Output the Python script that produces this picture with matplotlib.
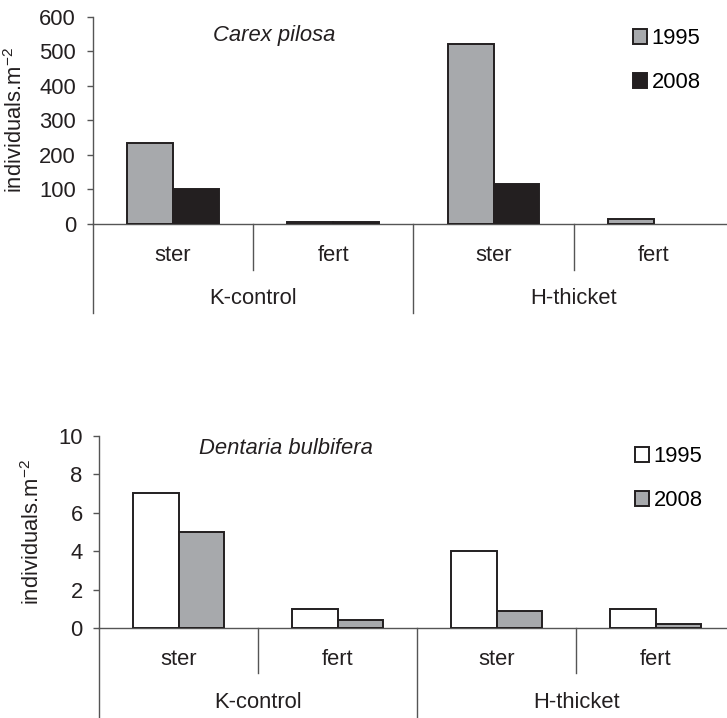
import matplotlib
matplotlib.use("Agg")
import matplotlib.pyplot as plt
from matplotlib.patches import Patch
import numpy as np

plt.rcParams['font.family'] = ['Liberation Sans', 'DejaVu Sans']
plt.rcParams['mathtext.fontset'] = 'custom'
plt.rcParams['mathtext.rm'] = 'Liberation Sans'
plt.rcParams['mathtext.it'] = 'Liberation Sans:italic'

sub_labels = ["ster", "fert", "ster", "fert"]
group_labels = ["K-control", "H-thicket"]
years = ["1995", "2008"]

carex_1995 = [234, 7, 521, 15]
carex_2008 = [101, 5, 117, 0]
dentaria_1995 = [7.0, 1.0, 4.0, 1.0]
dentaria_2008 = [5.0, 0.4, 0.9, 0.2]

W, H = 727, 718
fig = plt.figure(figsize=(W / 100, H / 100), dpi=100)

DARK = "#231f20"
GRAY = "#a7a9ac"
AXC = "#555555"
FS = 15.8


def make_panel(x0, x1, y_top, y_zero, vals1, vals2, colors, ymax, yticks, title,
               title_xy, leg_xy, sub_y, grp_y, short_y, long_y, ylab_x):
    ax = fig.add_axes([x0 / W, 1 - y_zero / H, (x1 - x0) / W, (y_zero - y_top) / H])
    x = np.arange(len(sub_labels))
    w = 0.285
    lw1 = [0 if v == 0 else 1.4 for v in vals1]
    lw2 = [0 if v == 0 else 1.4 for v in vals2]
    ax.bar(x - w / 2, vals1, w, color=colors[0], edgecolor=DARK, linewidth=lw1, zorder=3)
    ax.bar(x + w / 2, vals2, w, color=colors[1], edgecolor=DARK, linewidth=lw2, zorder=3)
    ax.set_xlim(-0.5, 3.5)
    ax.set_ylim(0, ymax)
    ax.set_yticks(yticks)
    ax.set_xticks([])
    for s in ["top", "right"]:
        ax.spines[s].set_visible(False)
    ax.spines["left"].set_color(AXC)
    ax.spines["bottom"].set_color(AXC)
    ax.spines["left"].set_linewidth(1.0)
    ax.spines["bottom"].set_linewidth(1.0)
    ax.tick_params(axis="y", direction="out", length=4.5, width=1.0, color=AXC,
                   labelsize=FS, labelcolor=DARK, pad=7.5)
    trans = ax.get_xaxis_transform()
    for xs in [0.5, 2.5]:
        ax.plot([xs, xs], [0, short_y], transform=trans, color=AXC, lw=1.0, clip_on=False)
    for xs in [-0.5, 1.5]:
        ax.plot([xs, xs], [0, long_y], transform=trans, color=AXC, lw=1.0, clip_on=False)
    for i, lab in enumerate(sub_labels):
        ax.text(i, sub_y, lab, transform=trans, ha="center", va="center",
                fontsize=FS, color=DARK)
    for j, lab in enumerate(group_labels):
        ax.text(2 * j + 0.5, grp_y, lab, transform=trans, ha="center", va="center",
                fontsize=FS, color=DARK)
    fig.text(title_xy[0] / W, 1 - title_xy[1] / H, title, style="italic",
             ha="center", va="center", fontsize=FS, color=DARK)
    fig.text(ylab_x / W, 1 - ((y_top + y_zero) / 2) / H, "individuals.m$^{-2}$",
             rotation=90, ha="center", va="center", fontsize=FS, color=DARK)
    handles = [Patch(facecolor=colors[k], edgecolor=DARK, linewidth=1.4, label=years[k])
               for k in range(2)]
    ax.legend(handles=handles, loc="upper left",
              bbox_to_anchor=(leg_xy[0] / W, 1 - leg_xy[1] / H),
              bbox_transform=fig.transFigure, frameon=False, fontsize=FS,
              handlelength=0.65, handleheight=0.65, handletextpad=0.2,
              labelspacing=1.05, borderpad=0, borderaxespad=0)
    return ax


make_panel(92.7, 734, 16.7, 224, carex_1995, carex_2008, [GRAY, DARK], 600,
           [0, 100, 200, 300, 400, 500, 600], "Carex pilosa", (274.5, 36),
           (633, 28), -0.15, -0.357, -0.222, -0.429, 16)

make_panel(99.3, 735, 435.7, 628, dentaria_1995, dentaria_2008, ["white", GRAY], 10,
           [0, 2, 4, 6, 8, 10], "Dentaria bulbifera", (286, 448),
           (635, 446), -0.163, -0.388, -0.2356, -0.6, 33)

fig.savefig("out.png", dpi=100)
